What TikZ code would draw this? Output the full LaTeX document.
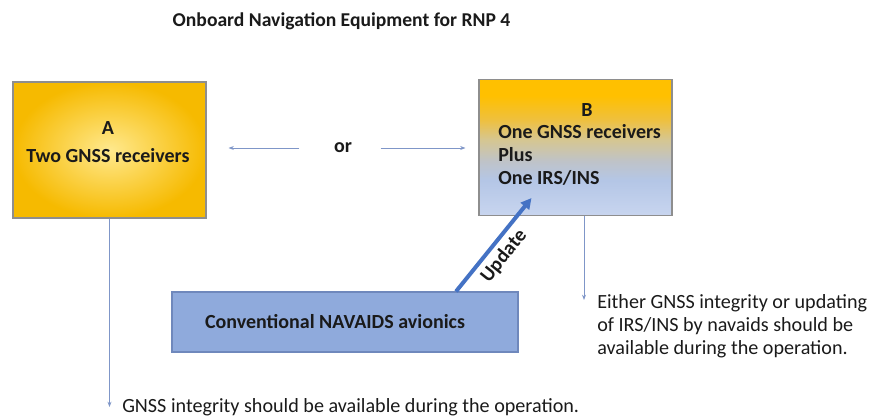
\documentclass[tikz,border=0pt]{standalone}
\usepackage{fontspec}
\setmainfont{Carlito}
\usetikzlibrary{arrows.meta,positioning,calc}
\definecolor{cOr}{HTML}{F6BA00}
\definecolor{cYl}{HTML}{FFE98E}
\definecolor{cNav}{HTML}{8FAADC}
\definecolor{cNavEdge}{HTML}{6F88BC}
\definecolor{cUp}{HTML}{4472C4}
\definecolor{cLn}{HTML}{7F96C8}
\definecolor{cEdge}{HTML}{8E8E8E}
\definecolor{cTxt}{HTML}{1A1A1A}
\definecolor{sA}{HTML}{C8D5EF}
\definecolor{sB}{HTML}{B4C6E6}
\definecolor{sC}{HTML}{BFC3C8}
\definecolor{sD}{HTML}{D6C690}
\definecolor{sE}{HTML}{EEC040}
\definecolor{sF}{HTML}{FFC000}
\pgfdeclareverticalshading{bshade}{100bp}{color(0bp)=(sA); color(25bp)=(sA);
  color(38bp)=(sB); color(45bp)=(sC); color(53bp)=(sD); color(60bp)=(sE);
  color(69bp)=(sF); color(100bp)=(sF)}

\begin{document}
\begin{tikzpicture}[x=0.75pt,y=-0.75pt,
  optbox/.style={draw=cEdge,line width=0.8pt,minimum width=144.75pt,minimum height=102pt},
  boxlbl/.style={font=\fontsize{15}{21}\selectfont\bfseries,text=cTxt,align=center,inner sep=0pt},
  thinarrow/.style={draw=cLn,line width=0.6pt,-{Stealth[length=4pt,width=3pt]}},
  updarrow/.style={draw=cUp,line width=3pt,-{Triangle[length=8pt,width=8pt]}},
  note/.style={font=\fontsize{15.1}{17.25}\selectfont,text=cTxt,align=left,inner sep=0pt}]
  \useasboundingbox (0,0) rectangle (870,417);
  \node[font=\fontsize{14.7}{17}\selectfont\bfseries,text=cTxt] (title) at (341.5,21)
    {Onboard Navigation Equipment for RNP 4};
  % option A
  \node[optbox,inner color=cYl,outer color=cOr] (A) at (109.5,150){};
  \node[boxlbl] (Alab) at (108,142){A\\Two GNSS receivers};
  % option B
  \node[optbox,shade,shading=bshade] (B) at (575.5,147.5){};
  \node[boxlbl] (Blab) at (587,110){B};
  \node[boxlbl,anchor=west,align=left,font=\fontsize{15}{17}\selectfont\bfseries] (Btext) at (498,155)
    {One GNSS receivers\\Plus\\One IRS/INS};
  \node[font=\fontsize{15}{18}\selectfont\bfseries,text=cTxt] (or) at (343,148){or};
  \draw[thinarrow,shorten <=22.5pt,shorten >=16.5pt] (or.west) -- (A.east |- or.west);
  \draw[thinarrow,shorten <=18pt,shorten >=9.75pt] (or.east) -- (B.west |- or.east);
  % navaids
  \node[draw=cNavEdge,line width=0.8pt,fill=cNav,minimum width=259.5pt,minimum height=45pt] (C) at (345,322){};
  \node[boxlbl] (Clab) at (335,322){Conventional NAVAIDS avionics};
  \draw[updarrow] ([xshift=83.25pt]C.north) --
    node[pos=0.48,below,sloped,font=\fontsize{15}{17}\selectfont\bfseries,text=cTxt]{Update}
    ([xshift=-33pt,yshift=13.5pt]B.south);
  % notes
  \node[note,anchor=west] (nA) at (122,407){GNSS integrity should be available during the operation.};
  \draw[thinarrow] (A.south) -- (A.south |- nA.west);
  \node[note,anchor=north west] (nB) at (597,294)
    {Either GNSS integrity or updating\\of IRS/INS by navaids should be\\available during the operation.};
  \coordinate (bend) at (584,300);
  \draw[thinarrow] (B.south -| bend) -- (bend);
\end{tikzpicture}
\end{document}
